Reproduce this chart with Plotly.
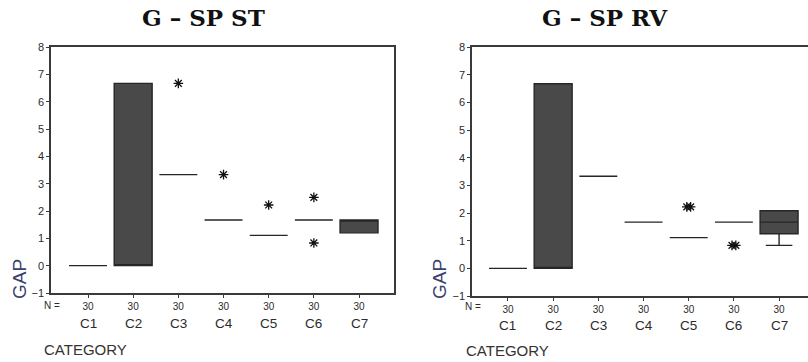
import plotly.graph_objects as go

# ---------------- data ----------------
categories = ["C1", "C2", "C3", "C4", "C5", "C6", "C7"]
n_counts = [30, 30, 30, 30, 30, 30, 30]

# G - SP ST
st_q1 = [0, 0, 3.33, 1.67, 1.11, 1.67, 1.2]
st_median = [0, 0, 3.33, 1.67, 1.11, 1.67, 1.67]
st_q3 = [0, 6.67, 3.33, 1.67, 1.11, 1.67, 1.67]
st_low = [0, 0, 3.33, 1.67, 1.11, 1.67, 1.2]
st_high = [0, 6.67, 3.33, 1.67, 1.11, 1.67, 1.67]
st_out_cat = ["C3", "C4", "C5", "C6", "C6"]
st_out_val = [6.67, 3.33, 2.22, 2.5, 0.83]

# G - SP RV
rv_q1 = [0, 0, 3.33, 1.67, 1.11, 1.67, 1.25]
rv_median = [0, 0, 3.33, 1.67, 1.11, 1.67, 1.67]
rv_q3 = [0, 6.67, 3.33, 1.67, 1.11, 1.67, 2.08]
rv_low = [0, 0, 3.33, 1.67, 1.11, 1.67, 0.83]
rv_high = [0, 6.67, 3.33, 1.67, 1.11, 1.67, 2.08]
rv_out_cat = ["C5", "C5", "C6", "C6"]
rv_out_val = [2.22, 2.22, 0.83, 0.83]

y_ticks = [-1, 0, 1, 2, 3, 4, 5, 6, 7, 8]
titles = ["G \u2013 SP ST", "G \u2013 SP RV"]

# ---------------- styling ----------------
BOX_FILL = "#494949"
AXIS_COL = "#3a3a3a"
TXT = "#2b2b2b"
GAP_COL = "#3b3f6e"
W, H = 808, 362

fig = go.Figure()

idx = {c: i for i, c in enumerate(categories)}


def add_panel(q1, med, q3, lo, hi, out_cat, out_val, xa, ya):
    fig.add_trace(go.Box(
        x=list(range(len(categories))), q1=q1, median=med, q3=q3,
        lowerfence=lo, upperfence=hi,
        fillcolor=BOX_FILL, line=dict(color="#262626", width=1.4),
        width=0.84, whiskerwidth=0.7, boxpoints=False,
        xaxis=xa, yaxis=ya, showlegend=False, hoverinfo="skip"))
    # identical outliers are drawn side by side, slightly offset
    keys = list(zip(out_cat, out_val))
    seen = {}
    xs = []
    for k in keys:
        total = keys.count(k)
        n = seen.get(k, 0)
        seen[k] = n + 1
        off = 0.085 * (n - (total - 1) / 2) if total > 1 else 0
        xs.append(idx[k[0]] + off)
    fig.add_trace(go.Scatter(
        x=xs, y=out_val, mode="markers",
        marker=dict(symbol="asterisk-open", size=8, color="#111",
                    line=dict(color="#111", width=1.3)),
        xaxis=xa, yaxis=ya, showlegend=False, hoverinfo="skip"))


add_panel(st_q1, st_median, st_q3, st_low, st_high, st_out_cat, st_out_val, "x", "y")
add_panel(rv_q1, rv_median, rv_q3, rv_low, rv_high, rv_out_cat, rv_out_val, "x2", "y2")

common_x = dict(
    tickmode="array", tickvals=list(range(len(categories))),
    ticktext=[str(n) for n in n_counts],
    ticks="outside", ticklen=3, tickcolor=AXIS_COL,
    tickfont=dict(family="Liberation Sans, Arial", size=10, color=TXT),
    showline=True, linecolor=AXIS_COL, linewidth=1.5,
    showgrid=False, zeroline=False, fixedrange=True, automargin=False)
common_y = dict(
    range=[-1, 8], tickmode="array", tickvals=y_ticks,
    ticks="outside", ticklen=3, tickcolor=AXIS_COL,
    tickfont=dict(family="Liberation Sans, Arial", size=11, color=TXT),
    showline=True, linecolor=AXIS_COL, linewidth=1.5,
    showgrid=False, zeroline=False, fixedrange=True, automargin=False)

fig.update_layout(
    width=W, height=H, margin=dict(l=0, r=0, t=0, b=0),
    paper_bgcolor="white", plot_bgcolor="white",
    xaxis=dict(common_x, domain=[51 / W, 394 / W], range=[-0.819, 6.774],
               mirror=True, anchor="y"),
    yaxis=dict(common_y, domain=[1 - 293 / H, 1 - 47 / H], mirror=True, anchor="x"),
    xaxis2=dict(common_x, domain=[472 / W, 1.0], range=[-0.796, 6.64],
                mirror=True, anchor="y2"),
    yaxis2=dict(common_y, domain=[1 - 296 / H, 1 - 47 / H], anchor="x2"),
)

ann = []
panels = [
    dict(xref="x", title_x=203, n_x=52, c_y=323, cat_x=85, cat_y=349, gap_x=19, n_y=305),
    dict(xref="x2", title_x=605, n_x=473, c_y=325, cat_x=507, cat_y=350, gap_x=439, n_y=306),
]
for p, t in zip(panels, titles):
    ann.append(dict(text="<b>" + t + "</b>", x=p["title_x"] / W, y=1 - 18 / H,
                    xref="paper", yref="paper", showarrow=False,
                    font=dict(family="DejaVu Serif", size=23, color="#111"),
                    xanchor="center", yanchor="middle"))
    for i, c in enumerate(categories):
        ann.append(dict(text=c, x=i, y=1 - p["c_y"] / H, xref=p["xref"], yref="paper",
                        showarrow=False, xanchor="center", yanchor="middle",
                        font=dict(family="Liberation Sans, Arial", size=13.5, color=TXT)))
    ann.append(dict(text="N =", x=p["n_x"] / W, y=1 - p["n_y"] / H, xref="paper", yref="paper",
                    showarrow=False, xanchor="center", yanchor="middle",
                    font=dict(family="Liberation Sans, Arial", size=10, color=TXT)))
    ann.append(dict(text="CATEGORY", x=p["cat_x"] / W, y=1 - p["cat_y"] / H,
                    xref="paper", yref="paper", showarrow=False,
                    xanchor="center", yanchor="middle",
                    font=dict(family="Liberation Sans, Arial", size=15, color="#333")))
    ann.append(dict(text="GAP", x=p["gap_x"] / W, y=1 - 279 / H, xref="paper", yref="paper",
                    showarrow=False, textangle=-90, xanchor="center", yanchor="middle",
                    font=dict(family="Liberation Sans, Arial", size=19, color=GAP_COL)))
fig.update_layout(annotations=ann)

fig.write_html("out.html", config={"displayModeBar": False},
               post_script="document.body.style.margin='0';")
